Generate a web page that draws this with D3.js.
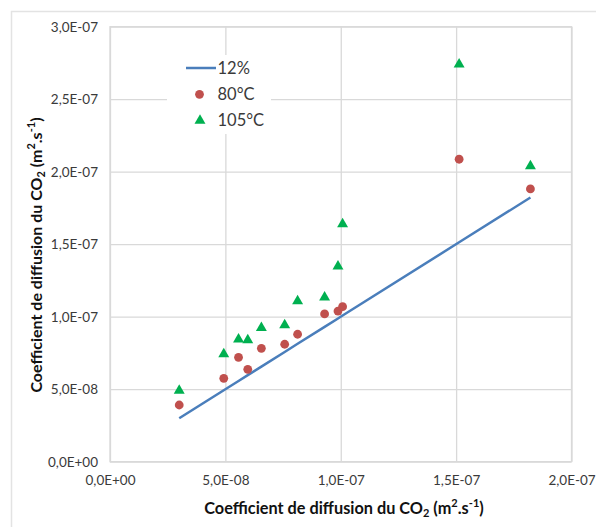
<!DOCTYPE html>
<html><head><meta charset="utf-8">
<script src="https://cdn.jsdelivr.net/npm/d3@7"></script>
<style>body{margin:0;background:#fff}svg{display:block}</style>
</head><body>
<script>
// Data (values in m².s⁻¹)
const sampleX = [3.0e-8, 4.93e-8, 5.57e-8, 5.97e-8, 6.56e-8, 7.57e-8, 8.13e-8, 9.3e-8, 9.88e-8, 10.08e-8, 15.13e-8, 18.22e-8];
const line12 = [3.0e-8, 4.93e-8, 5.57e-8, 5.97e-8, 6.56e-8, 7.57e-8, 8.13e-8, 9.3e-8, 9.88e-8, 10.08e-8, 15.13e-8, 18.22e-8];
const series80 = [3.91e-8, 5.75e-8, 7.2e-8, 6.37e-8, 7.82e-8, 8.1e-8, 8.79e-8, 10.19e-8, 10.39e-8, 10.69e-8, 20.86e-8, 18.81e-8];
const series105 = [4.9e-8, 7.43e-8, 8.44e-8, 8.39e-8, 9.24e-8, 9.43e-8, 11.08e-8, 11.34e-8, 13.48e-8, 16.38e-8, 27.4e-8, 20.39e-8];
const xTicks = [0, 5e-8, 1e-7, 1.5e-7, 2e-7];
const xTickLabels = ["0,0E+00", "5,0E-08", "1,0E-07", "1,5E-07", "2,0E-07"];
const yTicks = [0, 5e-8, 1e-7, 1.5e-7, 2e-7, 2.5e-7, 3e-7];
const yTickLabels = ["0,0E+00", "5,0E-08", "1,0E-07", "1,5E-07", "2,0E-07", "2,5E-07", "3,0E-07"];
const legendLabels = ["12%", "80°C", "105°C"];

const W = 596, H = 527;
const m = {left: 110, right: 571.5, top: 26.7, bottom: 461.7};
const font = "Lato, 'Open Sans', sans-serif";
const cBlue = "#4a7ebb", cRed = "#c0504d", cGreen = "#00b050", cGrid = "#d9d9d9", cText = "#3a3a3a";

const svg = d3.select("body").append("svg").attr("width", W).attr("height", H);
svg.append("rect").attr("width", W).attr("height", H).attr("fill", "#fff");
// outer chart border
svg.append("rect").attr("x", 11.5).attr("y", 11.5).attr("width", 700).attr("height", 700)
  .attr("fill", "none").attr("stroke", "#e3e3e3").attr("stroke-width", 1.5);

const x = d3.scaleLinear().domain([0, 2e-7]).range([m.left, m.right]);
const y = d3.scaleLinear().domain([0, 3e-7]).range([m.bottom, m.top]);

// gridlines
const xAxisG = svg.append("g").attr("transform", `translate(0,${m.top})`)
  .call(d3.axisBottom(x).tickValues(xTicks).tickSize(m.bottom - m.top).tickFormat(""));
const yAxisG = svg.append("g").attr("transform", `translate(${m.right},0)`)
  .call(d3.axisLeft(y).tickValues(yTicks).tickSize(m.right - m.left).tickFormat(""));
[xAxisG, yAxisG].forEach(g => {
  g.select(".domain").remove();
  g.selectAll("line").attr("stroke", cGrid).attr("stroke-width", 1.3);
});
svg.append("rect").attr("x", m.left).attr("y", m.top).attr("width", m.right - m.left).attr("height", m.bottom - m.top)
  .attr("fill", "none").attr("stroke", cGrid).attr("stroke-width", 1.3);

// tick labels
const xl = svg.append("g").attr("transform", `translate(0,${m.bottom + 19})`)
  .call(d3.axisBottom(x).tickValues(xTicks).tickSize(0).tickFormat((d, i) => xTickLabels[i]));
xl.select(".domain").remove();
xl.selectAll("text").attr("font-family", font).attr("font-size", 13.5).attr("fill", cText).attr("dy", "0.32em").attr("y", 0);
const yl = svg.append("g").attr("transform", `translate(${m.left - 12},0)`)
  .call(d3.axisLeft(y).tickValues(yTicks).tickSize(0).tickFormat((d, i) => yTickLabels[i]));
yl.select(".domain").remove();
yl.selectAll("text").attr("font-family", font).attr("font-size", 13.5).attr("fill", cText).attr("x", 0);

// line 12%
svg.append("path").datum(sampleX.map((d, i) => [d, line12[i]]))
  .attr("d", d3.line().x(d => x(d[0])).y(d => y(d[1])))
  .attr("fill", "none").attr("stroke", cBlue).attr("stroke-width", 2.5);

// 80°C circles
svg.append("g").selectAll("circle").data(series80).join("circle")
  .attr("cx", (d, i) => x(sampleX[i])).attr("cy", d => y(d)).attr("r", 4.4).attr("fill", cRed);

// 105°C triangles
const tri = d3.symbol().type(d3.symbolTriangle).size(52);
svg.append("g").selectAll("path").data(series105).join("path")
  .attr("d", tri).attr("transform", (d, i) => `translate(${x(sampleX[i])},${y(d)})`).attr("fill", cGreen);

// legend
const lg = svg.append("g");
lg.append("rect").attr("x", 167).attr("y", 55).attr("width", 104).attr("height", 79).attr("fill", "#fff");
lg.append("line").attr("x1", 186).attr("x2", 216).attr("y1", 68).attr("y2", 68).attr("stroke", cBlue).attr("stroke-width", 2.5);
lg.append("circle").attr("cx", 199.5).attr("cy", 94.3).attr("r", 4.4).attr("fill", cRed);
lg.append("path").attr("d", tri).attr("transform", "translate(200,120.5)").attr("fill", cGreen);
lg.selectAll("text").data(legendLabels).join("text")
  .attr("x", 217.5).attr("y", (d, i) => 68 + i * 26.2).attr("dy", "0.35em")
  .attr("font-family", font).attr("font-size", 16.5).attr("fill", cText).text(d => d);

// axis titles
const xt = svg.append("text").attr("x", 344).attr("y", 514).attr("text-anchor", "middle")
  .attr("font-family", font).attr("font-size", 16.3).attr("font-weight", "bold").attr("fill", "#111");
function fillTitle(t) {
  t.append("tspan").text("Coefficient de diffusion du CO");
  t.append("tspan").attr("font-size", 11).attr("dy", 3).text("2");
  t.append("tspan").attr("dy", -3).text(" (m");
  t.append("tspan").attr("font-size", 11).attr("dy", -7).text("2");
  t.append("tspan").attr("dy", 7).text(".s");
  t.append("tspan").attr("font-size", 11).attr("dy", -7).text("-1");
  t.append("tspan").attr("dy", 7).text(")");
}
fillTitle(xt);
const yt = svg.append("text").attr("transform", `translate(42,255) rotate(-90)`)
  .attr("text-anchor", "middle")
  .attr("font-family", font).attr("font-size", 16).attr("font-weight", "bold").attr("fill", "#111");
fillTitle(yt);
</script>
</body></html>
